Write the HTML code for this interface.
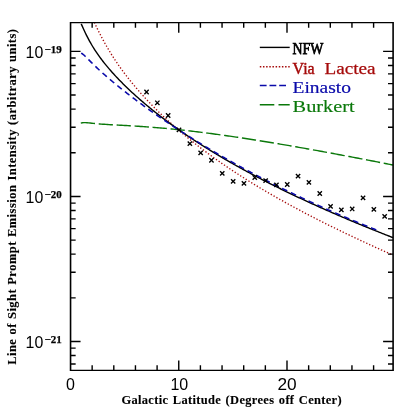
<!DOCTYPE html><html><head><meta charset="utf-8"><style>html,body{margin:0;padding:0;background:#fff}svg{display:block;will-change:transform}text{font-family:"Liberation Sans",sans-serif}.s{font-family:"Liberation Serif",serif}</style></head><body>
<svg width="415" height="415" viewBox="0 0 415 415">
<rect width="415" height="415" fill="#fff"/>
<clipPath id="c"><rect x="70.55" y="23.25" width="322.55" height="347.15"/></clipPath>
<g clip-path="url(#c)" fill="none">
<path d="M80.80 123.19 L82.37 122.77 L83.94 122.64 L85.51 122.66 L87.08 122.76 L88.64 122.90 L90.21 123.06 L91.78 123.23 L93.35 123.39 L94.92 123.54 L96.49 123.69 L98.06 123.83 L99.63 123.96 L101.19 124.09 L102.76 124.20 L104.33 124.31 L105.90 124.42 L107.47 124.52 L109.04 124.62 L110.61 124.71 L112.18 124.80 L113.75 124.89 L115.31 124.97 L116.88 125.06 L118.45 125.14 L120.02 125.23 L121.59 125.31 L123.16 125.40 L124.73 125.48 L126.30 125.57 L127.87 125.66 L129.43 125.75 L131.00 125.84 L132.57 125.93 L134.14 126.03 L135.71 126.12 L137.28 126.22 L138.85 126.32 L140.42 126.43 L141.98 126.53 L143.55 126.64 L145.12 126.75 L146.69 126.86 L148.26 126.98 L149.83 127.10 L151.40 127.22 L152.97 127.34 L154.54 127.47 L156.10 127.60 L157.67 127.73 L159.24 127.86 L160.81 127.99 L162.38 128.13 L163.95 128.27 L165.52 128.42 L167.09 128.56 L168.66 128.71 L170.22 128.86 L171.79 129.02 L173.36 129.17 L174.93 129.33 L176.50 129.49 L178.07 129.65 L179.64 129.82 L181.21 129.98 L182.77 130.15 L184.34 130.32 L185.91 130.50 L187.48 130.68 L189.05 130.85 L190.62 131.03 L192.19 131.22 L193.76 131.40 L195.33 131.59 L196.89 131.78 L198.46 131.97 L200.03 132.16 L201.60 132.35 L203.17 132.55 L204.74 132.75 L206.31 132.95 L207.88 133.15 L209.45 133.36 L211.01 133.56 L212.58 133.77 L214.15 133.98 L215.72 134.19 L217.29 134.40 L218.86 134.62 L220.43 134.83 L222.00 135.05 L223.56 135.27 L225.13 135.49 L226.70 135.71 L228.27 135.94 L229.84 136.16 L231.41 136.39 L232.98 136.62 L234.55 136.85 L236.12 137.08 L237.68 137.31 L239.25 137.55 L240.82 137.78 L242.39 138.02 L243.96 138.26 L245.53 138.50 L247.10 138.74 L248.67 138.98 L250.24 139.23 L251.80 139.47 L253.37 139.72 L254.94 139.97 L256.51 140.21 L258.08 140.46 L259.65 140.71 L261.22 140.97 L262.79 141.22 L264.35 141.47 L265.92 141.73 L267.49 141.98 L269.06 142.24 L270.63 142.50 L272.20 142.76 L273.77 143.02 L275.34 143.28 L276.91 143.55 L278.47 143.81 L280.04 144.07 L281.61 144.34 L283.18 144.61 L284.75 144.87 L286.32 145.14 L287.89 145.41 L289.46 145.68 L291.03 145.95 L292.59 146.22 L294.16 146.50 L295.73 146.77 L297.30 147.04 L298.87 147.32 L300.44 147.60 L302.01 147.87 L303.58 148.15 L305.14 148.43 L306.71 148.71 L308.28 148.99 L309.85 149.27 L311.42 149.55 L312.99 149.83 L314.56 150.11 L316.13 150.40 L317.70 150.68 L319.26 150.97 L320.83 151.25 L322.40 151.54 L323.97 151.83 L325.54 152.11 L327.11 152.40 L328.68 152.69 L330.25 152.98 L331.82 153.27 L333.38 153.56 L334.95 153.85 L336.52 154.15 L338.09 154.44 L339.66 154.73 L341.23 155.02 L342.80 155.32 L344.37 155.61 L345.93 155.91 L347.50 156.21 L349.07 156.50 L350.64 156.80 L352.21 157.10 L353.78 157.39 L355.35 157.69 L356.92 157.99 L358.49 158.29 L360.05 158.59 L361.62 158.89 L363.19 159.19 L364.76 159.49 L366.33 159.80 L367.90 160.10 L369.47 160.40 L371.04 160.71 L372.61 161.01 L374.17 161.31 L375.74 161.62 L377.31 161.92 L378.88 162.23 L380.45 162.53 L382.02 162.84 L383.59 163.15 L385.16 163.45 L386.72 163.76 L388.29 164.07 L389.86 164.38 L391.43 164.69 L393.00 164.99" stroke="#0a780a" stroke-width="1.4" stroke-dasharray="14.3 3.7"/>
<path d="M94.30 22.44 L95.30 24.53 L96.30 26.60 L97.30 28.66 L98.30 30.68 L99.29 32.68 L100.29 34.65 L101.29 36.58 L102.29 38.48 L103.29 40.34 L104.29 42.17 L105.29 43.97 L106.29 45.73 L107.29 47.46 L108.29 49.16 L109.28 50.84 L110.28 52.48 L111.28 54.10 L112.28 55.69 L113.28 57.25 L114.28 58.79 L115.28 60.31 L116.28 61.80 L117.28 63.28 L118.28 64.73 L119.27 66.16 L120.27 67.57 L121.27 68.96 L122.27 70.34 L123.27 71.69 L124.27 73.03 L125.27 74.36 L126.27 75.67 L127.27 76.96 L128.27 78.24 L129.26 79.50 L130.26 80.75 L131.26 81.99 L132.26 83.21 L133.26 84.42 L134.26 85.62 L135.26 86.81 L136.26 87.99 L137.26 89.15 L138.26 90.30 L139.25 91.45 L140.25 92.58 L141.25 93.70 L142.25 94.81 L143.25 95.92 L144.25 97.01 L145.25 98.09 L146.25 99.17 L147.25 100.23 L148.25 101.29 L149.24 102.34 L150.24 103.38 L151.24 104.42 L152.24 105.44 L153.24 106.46 L154.24 107.47 L155.24 108.47 L156.24 109.47 L157.24 110.45 L158.24 111.44 L159.23 112.41 L160.23 113.38 L161.23 114.34 L162.23 115.29 L163.23 116.24 L164.23 117.18 L165.23 118.12 L166.23 119.05 L167.23 119.97 L168.23 120.89 L169.22 121.80 L170.22 122.71 L171.22 123.61 L172.22 124.50 L173.22 125.39 L174.22 126.27 L175.22 127.15 L176.22 128.03 L177.22 128.89 L178.22 129.76 L179.21 130.62 L180.21 131.47 L181.21 132.32 L182.21 133.16 L183.21 134.00 L184.21 134.83 L185.21 135.66 L186.21 136.49 L187.21 137.31 L188.21 138.12 L189.20 138.94 L190.20 139.74 L191.20 140.55 L192.20 141.35 L193.20 142.14 L194.20 142.93 L195.20 143.72 L196.20 144.50 L197.20 145.28 L198.20 146.05 L199.19 146.82 L200.19 147.59 L201.19 148.35 L202.19 149.11 L203.19 149.87 L204.19 150.62 L205.19 151.37 L206.19 152.11 L207.19 152.85 L208.19 153.59 L209.18 154.33 L210.18 155.06 L211.18 155.79 L212.18 156.51 L213.18 157.23 L214.18 157.95 L215.18 158.66 L216.18 159.37 L217.18 160.08 L218.18 160.79 L219.17 161.49 L220.17 162.19 L221.17 162.88 L222.17 163.58 L223.17 164.27 L224.17 164.95 L225.17 165.64 L226.17 166.32 L227.17 167.00 L228.17 167.67 L229.16 168.34 L230.16 169.01 L231.16 169.68 L232.16 170.35 L233.16 171.01 L234.16 171.67 L235.16 172.32 L236.16 172.98 L237.16 173.63 L238.16 174.28 L239.15 174.93 L240.15 175.57 L241.15 176.21 L242.15 176.85 L243.15 177.49 L244.15 178.12 L245.15 178.75 L246.15 179.38 L247.15 180.01 L248.15 180.63 L249.14 181.26 L250.14 181.88 L251.14 182.49 L252.14 183.11 L253.14 183.72 L254.14 184.34 L255.14 184.94 L256.14 185.55 L257.14 186.16 L258.14 186.76 L259.13 187.36 L260.13 187.96 L261.13 188.56 L262.13 189.15 L263.13 189.74 L264.13 190.34 L265.13 190.92 L266.13 191.51 L267.13 192.10 L268.13 192.68 L269.12 193.26 L270.12 193.84 L271.12 194.42 L272.12 194.99 L273.12 195.57 L274.12 196.14 L275.12 196.71 L276.12 197.28 L277.12 197.85 L278.12 198.41 L279.11 198.98 L280.11 199.54 L281.11 200.10 L282.11 200.66 L283.11 201.21 L284.11 201.77 L285.11 202.32 L286.11 202.87 L287.11 203.42 L288.11 203.97 L289.10 204.52 L290.10 205.07 L291.10 205.61 L292.10 206.15 L293.10 206.69 L294.10 207.23 L295.10 207.77 L296.10 208.31 L297.10 208.84 L298.10 209.38 L299.09 209.91 L300.09 210.44 L301.09 210.97 L302.09 211.50 L303.09 212.03 L304.09 212.55 L305.09 213.08 L306.09 213.60 L307.09 214.12 L308.09 214.64 L309.08 215.16 L310.08 215.68 L311.08 216.19 L312.08 216.71 L313.08 217.22 L314.08 217.73 L315.08 218.25 L316.08 218.76 L317.08 219.27 L318.08 219.77 L319.07 220.28 L320.07 220.79 L321.07 221.29 L322.07 221.79 L323.07 222.29 L324.07 222.80 L325.07 223.30 L326.07 223.79 L327.07 224.29 L328.07 224.79 L329.06 225.28 L330.06 225.78 L331.06 226.27 L332.06 226.76 L333.06 227.25 L334.06 227.74 L335.06 228.23 L336.06 228.72 L337.06 229.21 L338.06 229.69 L339.05 230.18 L340.05 230.66 L341.05 231.15 L342.05 231.63 L343.05 232.11 L344.05 232.59 L345.05 233.07 L346.05 233.55 L347.05 234.03 L348.05 234.50 L349.04 234.98 L350.04 235.45 L351.04 235.93 L352.04 236.40 L353.04 236.87 L354.04 237.34 L355.04 237.81 L356.04 238.28 L357.04 238.75 L358.04 239.22 L359.03 239.69 L360.03 240.15 L361.03 240.62 L362.03 241.08 L363.03 241.55 L364.03 242.01 L365.03 242.47 L366.03 242.94 L367.03 243.40 L368.03 243.86 L369.02 244.32 L370.02 244.77 L371.02 245.23 L372.02 245.69 L373.02 246.15 L374.02 246.60 L375.02 247.06 L376.02 247.51 L377.02 247.96 L378.02 248.42 L379.01 248.87 L380.01 249.32 L381.01 249.77 L382.01 250.22 L383.01 250.67 L384.01 251.12 L385.01 251.57 L386.01 252.02 L387.01 252.46 L388.01 252.91 L389.00 253.36 L390.00 253.80 L391.00 254.25 L392.00 254.69 L393.00 255.13" stroke="#a50a0a" stroke-width="1.35" stroke-dasharray="1.3 1.95"/>
<path d="M81.20 23.86 L82.24 26.15 L83.29 28.46 L84.33 30.74 L85.37 32.96 L86.41 35.10 L87.46 37.18 L88.50 39.18 L89.54 41.10 L90.59 42.96 L91.63 44.76 L92.67 46.50 L93.71 48.18 L94.76 49.82 L95.80 51.40 L96.84 52.95 L97.88 54.46 L98.93 55.93 L99.97 57.36 L101.01 58.77 L102.06 60.15 L103.10 61.50 L104.14 62.82 L105.18 64.12 L106.23 65.40 L107.27 66.66 L108.31 67.90 L109.36 69.12 L110.40 70.32 L111.44 71.51 L112.48 72.68 L113.53 73.83 L114.57 74.97 L115.61 76.10 L116.66 77.21 L117.70 78.32 L118.74 79.40 L119.78 80.48 L120.83 81.55 L121.87 82.60 L122.91 83.65 L123.96 84.68 L125.00 85.71 L126.04 86.72 L127.08 87.73 L128.13 88.73 L129.17 89.72 L130.21 90.70 L131.25 91.67 L132.30 92.64 L133.34 93.60 L134.38 94.55 L135.43 95.49 L136.47 96.42 L137.51 97.35 L138.55 98.27 L139.60 99.19 L140.64 100.10 L141.68 101.00 L142.73 101.90 L143.77 102.79 L144.81 103.67 L145.85 104.55 L146.90 105.42 L147.94 106.29 L148.98 107.15 L150.03 108.00 L151.07 108.85 L152.11 109.70 L153.15 110.54 L154.20 111.37 L155.24 112.20 L156.28 113.03 L157.33 113.85 L158.37 114.66 L159.41 115.47 L160.45 116.28 L161.50 117.08 L162.54 117.88 L163.58 118.67 L164.62 119.46 L165.67 120.24 L166.71 121.02 L167.75 121.79 L168.80 122.56 L169.84 123.33 L170.88 124.09 L171.92 124.85 L172.97 125.61 L174.01 126.36 L175.05 127.11 L176.10 127.85 L177.14 128.59 L178.18 129.33 L179.22 130.06 L180.27 130.79 L181.31 131.51 L182.35 132.24 L183.40 132.95 L184.44 133.67 L185.48 134.38 L186.52 135.09 L187.57 135.80 L188.61 136.50 L189.65 137.20 L190.69 137.89 L191.74 138.58 L192.78 139.27 L193.82 139.96 L194.87 140.64 L195.91 141.32 L196.95 142.00 L197.99 142.68 L199.04 143.35 L200.08 144.02 L201.12 144.68 L202.17 145.34 L203.21 146.01 L204.25 146.66 L205.29 147.32 L206.34 147.97 L207.38 148.62 L208.42 149.27 L209.47 149.91 L210.51 150.55 L211.55 151.19 L212.59 151.83 L213.64 152.46 L214.68 153.09 L215.72 153.72 L216.77 154.35 L217.81 154.97 L218.85 155.59 L219.89 156.21 L220.94 156.83 L221.98 157.44 L223.02 158.06 L224.06 158.67 L225.11 159.28 L226.15 159.88 L227.19 160.48 L228.24 161.09 L229.28 161.68 L230.32 162.28 L231.36 162.88 L232.41 163.47 L233.45 164.06 L234.49 164.65 L235.54 165.24 L236.58 165.82 L237.62 166.40 L238.66 166.98 L239.71 167.56 L240.75 168.14 L241.79 168.71 L242.84 169.28 L243.88 169.86 L244.92 170.42 L245.96 170.99 L247.01 171.56 L248.05 172.12 L249.09 172.68 L250.14 173.24 L251.18 173.80 L252.22 174.35 L253.26 174.91 L254.31 175.46 L255.35 176.01 L256.39 176.56 L257.43 177.11 L258.48 177.65 L259.52 178.20 L260.56 178.74 L261.61 179.28 L262.65 179.82 L263.69 180.36 L264.73 180.89 L265.78 181.43 L266.82 181.96 L267.86 182.49 L268.91 183.02 L269.95 183.55 L270.99 184.08 L272.03 184.60 L273.08 185.12 L274.12 185.65 L275.16 186.17 L276.21 186.68 L277.25 187.20 L278.29 187.72 L279.33 188.23 L280.38 188.75 L281.42 189.26 L282.46 189.77 L283.51 190.28 L284.55 190.78 L285.59 191.29 L286.63 191.80 L287.68 192.30 L288.72 192.80 L289.76 193.30 L290.80 193.80 L291.85 194.30 L292.89 194.80 L293.93 195.29 L294.98 195.79 L296.02 196.28 L297.06 196.77 L298.10 197.26 L299.15 197.75 L300.19 198.24 L301.23 198.73 L302.28 199.21 L303.32 199.70 L304.36 200.18 L305.40 200.66 L306.45 201.14 L307.49 201.62 L308.53 202.10 L309.58 202.58 L310.62 203.05 L311.66 203.53 L312.70 204.00 L313.75 204.47 L314.79 204.95 L315.83 205.42 L316.87 205.89 L317.92 206.35 L318.96 206.82 L320.00 207.29 L321.05 207.75 L322.09 208.22 L323.13 208.68 L324.17 209.14 L325.22 209.60 L326.26 210.06 L327.30 210.52 L328.35 210.98 L329.39 211.44 L330.43 211.89 L331.47 212.35 L332.52 212.80 L333.56 213.25 L334.60 213.71 L335.65 214.16 L336.69 214.61 L337.73 215.06 L338.77 215.50 L339.82 215.95 L340.86 216.40 L341.90 216.84 L342.95 217.29 L343.99 217.73 L345.03 218.17 L346.07 218.61 L347.12 219.05 L348.16 219.49 L349.20 219.93 L350.24 220.37 L351.29 220.81 L352.33 221.25 L353.37 221.68 L354.42 222.12 L355.46 222.55 L356.50 222.98 L357.54 223.41 L358.59 223.85 L359.63 224.28 L360.67 224.71 L361.72 225.13 L362.76 225.56 L363.80 225.99 L364.84 226.42 L365.89 226.84 L366.93 227.27 L367.97 227.69 L369.02 228.11 L370.06 228.54 L371.10 228.96 L372.14 229.38 L373.19 229.80 L374.23 230.22 L375.27 230.64 L376.32 231.05 L377.36 231.47 L378.40 231.89 L379.44 232.30 L380.49 232.72 L381.53 233.13 L382.57 233.55 L383.61 233.96 L384.66 234.37 L385.70 234.78 L386.74 235.19 L387.79 235.60 L388.83 236.01 L389.87 236.42 L390.91 236.83 L391.96 237.24 L393.00 237.64" stroke="#000" stroke-width="1.4"/>
<path d="M81.20 53.09 L81.94 53.52 L82.68 54.05 L83.42 54.64 L84.16 55.29 L84.90 55.98 L85.64 56.68 L86.38 57.41 L87.12 58.14 L87.86 58.88 L88.60 59.62 L89.34 60.37 L90.08 61.11 L90.81 61.85 L91.55 62.59 L92.29 63.32 L93.03 64.05 L93.77 64.77 L94.51 65.49 L95.25 66.21 L95.99 66.91 L96.73 67.62 L97.47 68.32 L98.21 69.01 L98.95 69.70 L99.69 70.38 L100.43 71.06 L101.17 71.73 L101.91 72.40 L102.65 73.07 L103.39 73.73 L104.13 74.39 L104.87 75.04 L105.61 75.69 L106.35 76.34 L107.09 76.98 L107.83 77.62 L108.57 78.25 L109.30 78.89 L110.04 79.51 L110.78 80.14 L111.52 80.76 L112.26 81.38 L113.00 82.00 L113.74 82.62 L114.48 83.23 L115.22 83.84 L115.96 84.44 L116.70 85.05 L117.44 85.65 L118.18 86.25 L118.92 86.85 L119.66 87.44 L120.40 88.04 L121.14 88.63 L121.88 89.22 L122.62 89.80 L123.36 90.39 L124.10 90.97 L124.84 91.55 L125.58 92.13 L126.32 92.71 L127.06 93.28 L127.79 93.85 L128.53 94.42 L129.27 94.99 L130.01 95.56 L130.75 96.13 L131.49 96.69 L132.23 97.25 L132.97 97.82 L133.71 98.38 L134.45 98.93 L135.19 99.49 L135.93 100.04 L136.67 100.60 L137.41 101.15 L138.15 101.70 L138.89 102.25 L139.63 102.79 L140.37 103.34 L141.11 103.88 L141.85 104.43 L142.59 104.97 L143.33 105.51 L144.07 106.05 L144.81 106.58 L145.55 107.12 L146.28 107.65 L147.02 108.19 L147.76 108.72 L148.50 109.25 L149.24 109.78 L149.98 110.30 L150.72 110.83 L151.46 111.36 L152.20 111.88 L152.94 112.40 L153.68 112.92 L154.42 113.44 L155.16 113.96 L155.90 114.48 L156.64 115.00 L157.38 115.51 L158.12 116.02 L158.86 116.54 L159.60 117.05 L160.34 117.56 L161.08 118.07 L161.82 118.57 L162.56 119.08 L163.30 119.59 L164.04 120.09 L164.77 120.59 L165.51 121.10 L166.25 121.60 L166.99 122.10 L167.73 122.59 L168.47 123.09 L169.21 123.59 L169.95 124.08 L170.69 124.58 L171.43 125.07 L172.17 125.56 L172.91 126.05 L173.65 126.54 L174.39 127.03 L175.13 127.52 L175.87 128.00 L176.61 128.49 L177.35 128.97 L178.09 129.46 L178.83 129.94 L179.57 130.42 L180.31 130.90 L181.05 131.38 L181.79 131.85 L182.53 132.33 L183.26 132.81 L184.00 133.28 L184.74 133.76 L185.48 134.23 L186.22 134.70 L186.96 135.17 L187.70 135.64 L188.44 136.11 L189.18 136.58 L189.92 137.04 L190.66 137.51 L191.40 137.97 L192.14 138.44 L192.88 138.90 L193.62 139.36 L194.36 139.82 L195.10 140.28 L195.84 140.74 L196.58 141.20 L197.32 141.65 L198.06 142.11 L198.80 142.56 L199.54 143.02 L200.28 143.47 L201.02 143.92 L201.75 144.37 L202.49 144.82 L203.23 145.27 L203.97 145.72 L204.71 146.17 L205.45 146.61 L206.19 147.06 L206.93 147.50 L207.67 147.95 L208.41 148.39 L209.15 148.83 L209.89 149.27 L210.63 149.71 L211.37 150.15 L212.11 150.59 L212.85 151.02 L213.59 151.46 L214.33 151.90 L215.07 152.33 L215.81 152.76 L216.55 153.20 L217.29 153.63 L218.03 154.06 L218.77 154.49 L219.51 154.92 L220.24 155.35 L220.98 155.77 L221.72 156.20 L222.46 156.63 L223.20 157.05 L223.94 157.48 L224.68 157.90 L225.42 158.32 L226.16 158.74 L226.90 159.16 L227.64 159.58 L228.38 160.00 L229.12 160.42 L229.86 160.84 L230.60 161.25 L231.34 161.67 L232.08 162.08 L232.82 162.50 L233.56 162.91 L234.30 163.32 L235.04 163.73 L235.78 164.15 L236.52 164.56 L237.26 164.96 L237.99 165.37 L238.73 165.78 L239.47 166.19 L240.21 166.59 L240.95 167.00 L241.69 167.40 L242.43 167.81 L243.17 168.21 L243.91 168.61 L244.65 169.01 L245.39 169.41 L246.13 169.81 L246.87 170.21 L247.61 170.61 L248.35 171.01 L249.09 171.40 L249.83 171.80 L250.57 172.19 L251.31 172.59 L252.05 172.98 L252.79 173.37 L253.53 173.77 L254.27 174.16 L255.01 174.55 L255.75 174.94 L256.48 175.33 L257.22 175.71 L257.96 176.10 L258.70 176.49 L259.44 176.87 L260.18 177.26 L260.92 177.64 L261.66 178.03 L262.40 178.41 L263.14 178.79 L263.88 179.18 L264.62 179.56 L265.36 179.94 L266.10 180.32 L266.84 180.69 L267.58 181.07 L268.32 181.45 L269.06 181.83 L269.80 182.20 L270.54 182.58 L271.28 182.95 L272.02 183.33 L272.76 183.70 L273.50 184.07 L274.24 184.44 L274.97 184.82 L275.71 185.19 L276.45 185.56 L277.19 185.92 L277.93 186.29 L278.67 186.66 L279.41 187.03 L280.15 187.39 L280.89 187.76 L281.63 188.12 L282.37 188.49 L283.11 188.85 L283.85 189.22 L284.59 189.58 L285.33 189.94 L286.07 190.30 L286.81 190.66 L287.55 191.02 L288.29 191.38 L289.03 191.74 L289.77 192.10 L290.51 192.45 L291.25 192.81 L291.99 193.16 L292.73 193.52 L293.46 193.87 L294.20 194.23 L294.94 194.58 L295.68 194.93 L296.42 195.29 L297.16 195.64 L297.90 195.99 L298.64 196.34 L299.38 196.69 L300.12 197.04 L300.86 197.38 L301.60 197.73 L302.34 198.08 L303.08 198.42 L303.82 198.77 L304.56 199.11 L305.30 199.46 L306.04 199.80 L306.78 200.15 L307.52 200.49 L308.26 200.83 L309.00 201.17 L309.74 201.51 L310.48 201.85 L311.22 202.19 L311.95 202.53 L312.69 202.87 L313.43 203.21 L314.17 203.54 L314.91 203.88 L315.65 204.22 L316.39 204.55 L317.13 204.89 L317.87 205.22 L318.61 205.56 L319.35 205.89 L320.09 206.22 L320.83 206.55 L321.57 206.88 L322.31 207.21 L323.05 207.55 L323.79 207.87 L324.53 208.20 L325.27 208.53 L326.01 208.86 L326.75 209.19 L327.49 209.51 L328.23 209.84 L328.97 210.17 L329.71 210.49 L330.44 210.82 L331.18 211.14 L331.92 211.46 L332.66 211.79 L333.40 212.11 L334.14 212.43 L334.88 212.75 L335.62 213.07 L336.36 213.39 L337.10 213.71 L337.84 214.03 L338.58 214.35 L339.32 214.67 L340.06 214.98 L340.80 215.30 L341.54 215.62 L342.28 215.93 L343.02 216.25 L343.76 216.56 L344.50 216.88 L345.24 217.19 L345.98 217.50 L346.72 217.81 L347.46 218.13 L348.20 218.44 L348.93 218.75 L349.67 219.06 L350.41 219.37 L351.15 219.68 L351.89 219.99 L352.63 220.30 L353.37 220.60 L354.11 220.91 L354.85 221.22 L355.59 221.52 L356.33 221.83 L357.07 222.13 L357.81 222.44 L358.55 222.74 L359.29 223.05 L360.03 223.35 L360.77 223.65 L361.51 223.95 L362.25 224.26 L362.99 224.56 L363.73 224.86 L364.47 225.16 L365.21 225.46 L365.95 225.76 L366.69 226.06 L367.42 226.35 L368.16 226.65 L368.90 226.95 L369.64 227.25 L370.38 227.54 L371.12 227.84 L371.86 228.13 L372.60 228.43 L373.34 228.72 L374.08 229.01 L374.82 229.31 L375.56 229.60 L376.30 229.89" stroke="#0a0aaa" stroke-width="1.55" stroke-dasharray="5.7 4.03"/>
</g>
<path d="M144.4 89.8 L148.7 94.2 M144.4 94.2 L148.7 89.8 M155.2 100.6 L159.5 105.0 M155.2 105.0 L159.5 100.6 M166.0 113.3 L170.3 117.7 M166.0 117.7 L170.3 113.3 M176.8 127.8 L181.2 132.1 M176.8 132.1 L181.2 127.8 M187.7 141.5 L192.0 145.8 M187.7 145.8 L192.0 141.5 M198.5 150.8 L202.8 155.1 M198.5 155.1 L202.8 150.8 M209.3 158.1 L213.6 162.4 M209.3 162.4 L213.6 158.1 M220.1 171.2 L224.4 175.5 M220.1 175.5 L224.4 171.2 M231.0 179.2 L235.3 183.5 M231.0 183.5 L235.3 179.2 M241.8 181.2 L246.1 185.5 M241.8 185.5 L246.1 181.2 M252.6 175.3 L256.9 179.7 M252.6 179.7 L256.9 175.3 M263.5 178.5 L267.8 182.8 M263.5 182.8 L267.8 178.5 M274.3 182.8 L278.6 187.1 M274.3 187.1 L278.6 182.8 M285.1 182.3 L289.4 186.7 M285.1 186.7 L289.4 182.3 M295.9 174.0 L300.2 178.3 M295.9 178.3 L300.2 174.0 M306.8 180.2 L311.0 184.5 M306.8 184.5 L311.0 180.2 M317.6 191.3 L321.9 195.7 M317.6 195.7 L321.9 191.3 M328.4 204.2 L332.7 208.5 M328.4 208.5 L332.7 204.2 M339.2 207.7 L343.5 212.0 M339.2 212.0 L343.5 207.7 M350.1 206.8 L354.3 211.1 M350.1 211.1 L354.3 206.8 M360.9 195.8 L365.2 200.1 M360.9 200.1 L365.2 195.8 M371.7 207.2 L376.0 211.5 M371.7 211.5 L376.0 207.2 M382.5 214.2 L386.8 218.5 M382.5 218.5 L386.8 214.2 " stroke="#000" stroke-width="1.35" fill="none"/>
<path d="M70.55 21.95 V371.10 M393.10 21.93 V371.10" stroke="#000" stroke-width="1.6" fill="none"/>
<path d="M70.55 22.65 H393.10 M70.55 370.40 H393.10" stroke="#000" stroke-width="1.35" fill="none"/>
<path d="M92.15 370.40 v-5.1 M92.15 22.65 v5.1 M113.80 370.40 v-5.1 M113.80 22.65 v5.1 M135.45 370.40 v-5.1 M135.45 22.65 v5.1 M157.10 370.40 v-5.1 M157.10 22.65 v5.1 M178.75 370.40 v-10.0 M178.75 22.65 v10.0 M200.40 370.40 v-5.1 M200.40 22.65 v5.1 M222.05 370.40 v-5.1 M222.05 22.65 v5.1 M243.70 370.40 v-5.1 M243.70 22.65 v5.1 M265.35 370.40 v-5.1 M265.35 22.65 v5.1 M287.00 370.40 v-10.0 M287.00 22.65 v10.0 M308.65 370.40 v-5.1 M308.65 22.65 v5.1 M330.30 370.40 v-5.1 M330.30 22.65 v5.1 M351.95 370.40 v-5.1 M351.95 22.65 v5.1 M373.60 370.40 v-5.1 M373.60 22.65 v5.1 M70.55 363.97 h5.1 M393.10 363.97 h-5.1 M70.55 355.56 h5.1 M393.10 355.56 h-5.1 M70.55 348.14 h5.1 M393.10 348.14 h-5.1 M70.55 341.50 h10.0 M393.10 341.50 h-10.0 M70.55 297.84 h5.1 M393.10 297.84 h-5.1 M70.55 272.29 h5.1 M393.10 272.29 h-5.1 M70.55 254.17 h5.1 M393.10 254.17 h-5.1 M70.55 240.11 h5.1 M393.10 240.11 h-5.1 M70.55 228.63 h5.1 M393.10 228.63 h-5.1 M70.55 218.92 h5.1 M393.10 218.92 h-5.1 M70.55 210.51 h5.1 M393.10 210.51 h-5.1 M70.55 203.09 h5.1 M393.10 203.09 h-5.1 M70.55 196.45 h10.0 M393.10 196.45 h-10.0 M70.55 152.79 h5.1 M393.10 152.79 h-5.1 M70.55 127.24 h5.1 M393.10 127.24 h-5.1 M70.55 109.12 h5.1 M393.10 109.12 h-5.1 M70.55 95.06 h5.1 M393.10 95.06 h-5.1 M70.55 83.58 h5.1 M393.10 83.58 h-5.1 M70.55 73.87 h5.1 M393.10 73.87 h-5.1 M70.55 65.46 h5.1 M393.10 65.46 h-5.1 M70.55 58.04 h5.1 M393.10 58.04 h-5.1 M70.55 51.40 h10.0 M393.10 51.40 h-10.0 " stroke="#000" stroke-width="1.4" fill="none"/>
<text x="70.5" y="390.1" font-size="16" text-anchor="middle">0</text>
<text x="179.3" y="390.1" font-size="16" text-anchor="middle">10</text>
<text x="287.0" y="390.1" font-size="16" text-anchor="middle" textLength="19.2" lengthAdjust="spacingAndGlyphs">20</text>
<text x="25.6" y="57.7" font-size="16" textLength="17.7" lengthAdjust="spacingAndGlyphs">10</text>
<text class="s" x="44.5" y="52.6" font-size="10.8" font-weight="bold" stroke="#000" stroke-width="0.25" textLength="17.2" lengthAdjust="spacingAndGlyphs">−19</text>
<text x="25.6" y="202.8" font-size="16" textLength="17.7" lengthAdjust="spacingAndGlyphs">10</text>
<text class="s" x="44.5" y="197.7" font-size="10.8" font-weight="bold" stroke="#000" stroke-width="0.25" textLength="17.2" lengthAdjust="spacingAndGlyphs">−20</text>
<text x="25.6" y="347.8" font-size="16" textLength="17.7" lengthAdjust="spacingAndGlyphs">10</text>
<text class="s" x="44.5" y="342.7" font-size="10.8" font-weight="bold" stroke="#000" stroke-width="0.25" textLength="17.2" lengthAdjust="spacingAndGlyphs">−21</text>
<text class="s" x="231.7" y="403.8" font-size="11.5" font-weight="bold" text-anchor="middle" letter-spacing="0.3" word-spacing="1" stroke="#000" stroke-width="0.1" textLength="220.5" lengthAdjust="spacingAndGlyphs">Galactic Latitude (Degrees off Center)</text>
<text class="s" transform="translate(15.6,196.7) rotate(-90)" font-size="11.5" font-weight="bold" text-anchor="middle" letter-spacing="0.45" word-spacing="0.5" stroke="#000" stroke-width="0.1" textLength="336.3" lengthAdjust="spacingAndGlyphs">Line of Sight Prompt Emission Intensity (arbitrary units)</text>
<path d="M259.8 47.4 H289.7" stroke="#000" stroke-width="1.4" fill="none" />
<text class="s" x="292.6" y="54.4" font-size="17" fill="#000" stroke="#000" stroke-width="0.75" textLength="30.8" lengthAdjust="spacingAndGlyphs">NFW</text>
<path d="M259.8 66.7 H289.7" stroke="#a50a0a" stroke-width="1.6" fill="none" stroke-dasharray="1.5 1.66"/>
<text class="s" x="292.6" y="73.7" font-size="17" fill="#a50a0a" stroke="#a50a0a" stroke-width="0.45" textLength="22.1" lengthAdjust="spacingAndGlyphs">Via</text>
<text class="s" x="324.5" y="73.7" font-size="17" fill="#a50a0a" stroke="#a50a0a" stroke-width="0.25" textLength="51.0" lengthAdjust="spacingAndGlyphs">Lactea</text>
<path d="M259.8 85.5 H287.0" stroke="#0a0aaa" stroke-width="1.6" fill="none" stroke-dasharray="6.8 2.9"/>
<text class="s" x="292.6" y="92.5" font-size="17" fill="#0a0aaa" stroke="#0a0aaa" stroke-width="0.20" textLength="58.3" lengthAdjust="spacingAndGlyphs">Einasto</text>
<path d="M259.8 104.8 H289.7" stroke="#0a780a" stroke-width="1.4" fill="none" stroke-dasharray="14.5 4.2"/>
<text class="s" x="292.6" y="111.8" font-size="17" fill="#0a780a" stroke="#0a780a" stroke-width="0.15" textLength="62.1" lengthAdjust="spacingAndGlyphs">Burkert</text>
</svg></body></html>
